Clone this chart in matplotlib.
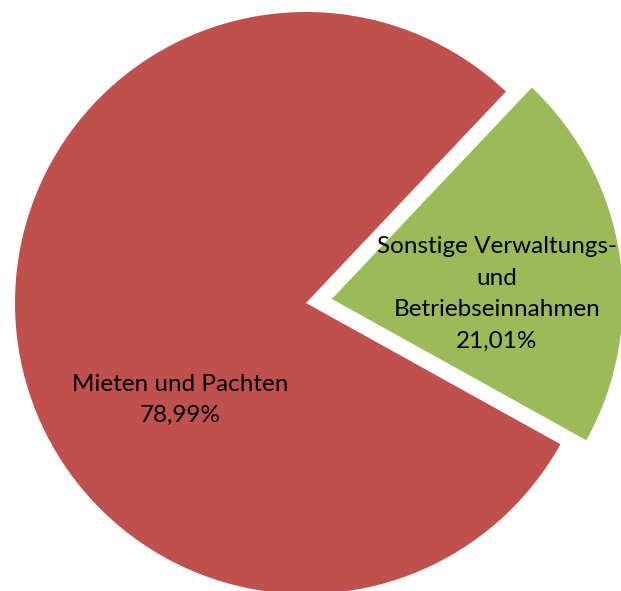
import matplotlib.pyplot as plt
import numpy as np

# slice data
categories = ['Mieten und Pachten', 'Sonstige Verwaltungs-\nund\nBetriebseinnahmen']
shares = [78.99, 21.01]
pct_labels = ['78,99%', '21,01%']
colors = ['#C0504D', '#9BBB59']

W, H = 621, 591
R = 291.0               # pie radius in pixels
cx, cy = 306.0, 288.0   # pie center in pixels (from bottom left)

fig = plt.figure(figsize=(W / 100, H / 100), dpi=100)
ax = fig.add_axes([0, 0, 1, 1])

wedges, _ = ax.pie(shares, colors=colors, startangle=46.6, counterclock=True,
                   explode=[0, 0.09], radius=1.0,
                   wedgeprops=dict(linewidth=0))

ax.set_xlim(-cx / R, (W - cx) / R)
ax.set_ylim(-cy / R, (H - cy) / R)
ax.set_aspect('auto')
ax.axis('off')

# label positions (in pie radius units)
label_pos = [(-0.433, -0.333), (0.656, 0.031)]
for cat, pct, (lx, ly) in zip(categories, pct_labels, label_pos):
    ax.text(lx, ly, cat + '\n' + pct, ha='center', va='center',
            fontsize=17.5, family='Lato', linespacing=1.62, color='black')

fig.savefig('out.png', dpi=100)
